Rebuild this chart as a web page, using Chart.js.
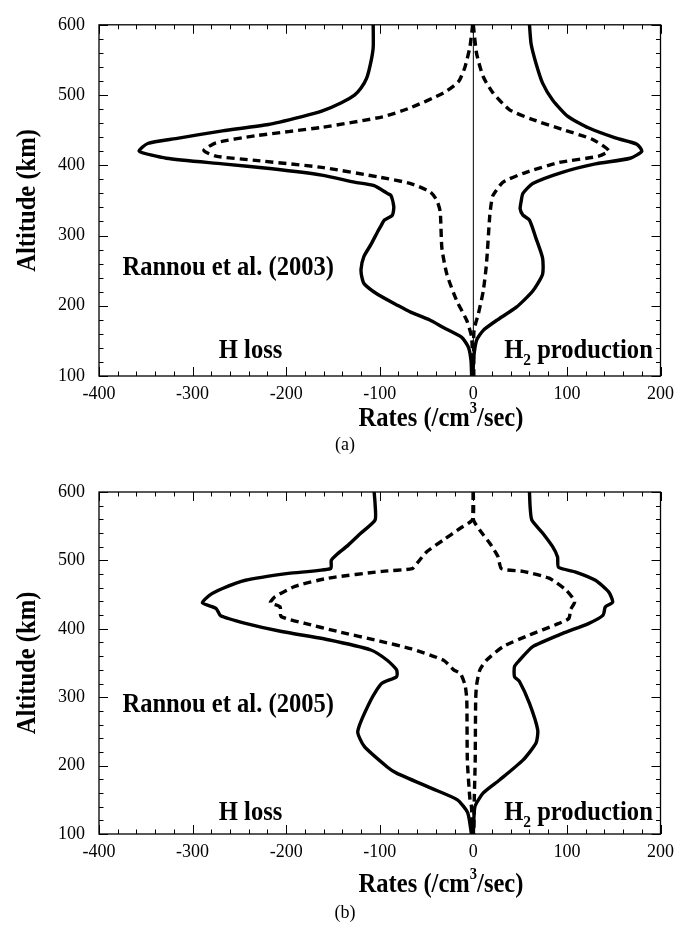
<!DOCTYPE html>
<html>
<head>
<meta charset="utf-8">
<script src="https://cdn.jsdelivr.net/npm/chart.js@4.4.0/dist/chart.umd.min.js"></script>
<style>
  body { margin: 0; background: #fff; }
  .panel { position: absolute; left: 0; width: 681px; height: 464px; }
  canvas { display: block; }
</style>
</head>
<body>
<div class="panel" style="top:0"><canvas id="chart-a" width="681" height="464"></canvas></div>
<div class="panel" style="top:464px"><canvas id="chart-b" width="681" height="464"></canvas></div>
<script>
// axis ticks
var rateTicks = [-400, -300, -200, -100, 0, 100, 200];
var altTicks = [100, 200, 300, 400, 500, 600];

// panel (a) - Rannou et al. (2003)
var altLossA = [600, 568, 547, 524, 510, 500, 489, 477, 469, 458, 449, 438, 431, 420, 410, 402, 395, 386, 376, 371, 360, 357, 341, 329, 322, 313, 306, 287, 270, 252, 240, 231, 216, 200, 191, 180, 169, 155, 141, 122, 100];
var rateLossA = [-107, -107, -109.5, -114, -120, -127, -141, -162, -184, -219, -268, -318, -348, -357, -328, -268, -215, -162, -127, -106, -92, -88, -85, -86.5, -95, -99, -102, -109.5, -117, -120, -119, -116.5, -102, -80, -67, -47, -32, -12.4, -5.3, -2.5, -1.8];
var altProdA = [600, 573, 545, 517, 493, 470, 453, 439, 430, 420, 410, 402, 390, 374, 360, 348, 338, 329, 322, 296, 268, 245, 221, 198, 179, 165, 151, 127, 100];
var rateProdA = [60, 61.7, 67, 74, 84.7, 100.6, 123.5, 151.7, 174.7, 180, 167.6, 130.5, 95, 63.5, 53, 51, 50, 53, 60, 67, 74, 74, 63.5, 46, 24.7, 10.6, 3.5, 0.5, -0.5];
var altLossDashA = [600, 569, 540, 519, 503, 482, 469, 454, 442, 432, 421, 413, 407, 397, 383, 374, 362, 350, 334, 282, 245, 207, 179, 155, 100];
var rateLossDashA = [-0.7, -3.6, -8.9, -15.9, -31.8, -67, -97, -162, -233, -275, -288, -275, -233, -162, -100, -67, -46, -39, -35.4, -33.6, -28.3, -17.7, -7, -1.8, -0.5];
var altProdDashA = [600, 559, 526, 503, 479, 465, 451, 437, 421, 413, 404, 390, 376, 357, 348, 329, 259, 221, 188, 165, 100];
var rateProdDashA = [0, 3.5, 10.6, 21, 38.8, 63.5, 95, 127, 144.6, 134, 91.7, 56.4, 31.8, 21, 19.4, 17.6, 14, 10.6, 5.3, 0.7, 0.5];
var altZeroA = [100, 600];
var rateZeroA = [0, 0];

// panel (b) - Rannou et al. (2005)
var altLossB = [600, 583, 559, 540, 522, 508, 500, 488, 481, 471, 459, 449, 438, 430, 419, 408, 396, 384, 369, 354, 340, 330, 320, 296, 250, 228, 198, 189, 167, 150, 131, 100];
var rateLossB = [-106, -105, -105, -120, -134, -146.5, -151.8, -152.5, -197.7, -243.5, -268, -282, -289.5, -275, -270, -243.5, -204.8, -155, -109.5, -92, -82, -82, -98, -109.5, -123.5, -116.5, -92, -82, -45, -17, -6, -2];
var altProdB = [600, 578, 559, 540, 520, 505, 490, 483, 471, 454, 439, 432, 420, 408, 393, 374, 354, 345, 330, 323, 291, 252, 233, 208, 179, 160, 140, 100];
var rateProdB = [60, 60.7, 62.5, 74, 84.7, 90, 91, 109.4, 130.5, 144.6, 148.9, 141, 138.7, 123.5, 95, 63.5, 49.3, 44, 44, 49.3, 60, 68.8, 67, 53, 28, 10.6, 1.7, 0];
var altLossDashB = [600, 560, 547, 530, 513, 496, 488, 484, 474, 462, 447, 438, 432, 418, 408, 396, 382, 371, 354, 340, 335, 318, 296, 208, 150, 140, 100];
var rateLossDashB = [0, -0.7, -14, -31.8, -49.5, -60, -65.3, -97, -155, -190.6, -211.8, -217, -206.5, -205.5, -180, -144.7, -100, -67, -31.8, -21, -14, -8.9, -7, -6.4, -3.6, -2, -1];
var altProdDashB = [600, 560, 544, 525, 505, 488, 484, 474, 457, 440, 428, 415, 406, 391, 374, 354, 340, 318, 296, 208, 150, 100];
var rateProdDashB = [0, 0, 7, 17.6, 26.5, 30, 53, 81, 98.8, 108.3, 104, 102, 88, 60, 31.8, 14, 7, 3.5, 2.5, 2, 1, 0.5];

var serif = '"Liberation Serif", "Times New Roman", serif';
var squeeze = 0.91; // the figure's bold lettering is narrow and tall

function toPoints (rates, alts) {
  var pts = [];
  for (var i = 0; i < alts.length; i++) {
    pts.push({ x: rates[i], y: alts[i] });
  }
  return pts;
}

function solid (rates, alts) {
  return { data: toPoints(rates, alts), borderColor: '#000', borderWidth: 3.4, borderJoinStyle: 'round', pointRadius: 0, showLine: true, tension: 0.2 };
}

function dashed (rates, alts) {
  var ds = solid(rates, alts);
  ds.borderDash = [8, 5];
  ds.borderJoinStyle = 'miter';
  return ds;
}

// bold text, narrowed; returns its drawn width
function boldText (ctx, text, x, y, size) {
  ctx.font = 'bold ' + size + 'px ' + serif;
  var width = ctx.measureText(text).width * squeeze;
  ctx.save();
  ctx.translate(x, y);
  ctx.scale(squeeze, 1);
  ctx.fillText(text, 0, 0);
  ctx.restore();
  return width;
}

// frame, inward ticks and the texts of the figure
var decorPlugin = {
  id: 'decor',
  afterDraw: function (chart) {
    var o = chart.options.plugins.decor;
    var ctx = chart.ctx;
    var a = chart.chartArea;
    var xs = chart.scales.x;
    var ys = chart.scales.y;
    ctx.save();
    ctx.strokeStyle = '#000';
    ctx.fillStyle = '#000';
    ctx.lineWidth = 1.3;
    ctx.strokeRect(a.left, a.top, a.right - a.left, a.bottom - a.top);
    // minor ticks every 20, major every 100
    ctx.lineWidth = 1;
    ctx.beginPath();
    for (var v = xs.min; v <= xs.max; v += 20) {
      var px = Math.round(xs.getPixelForValue(v)) + 0.5;
      var len = (v % 100 === 0) ? 9 : 4.5;
      ctx.moveTo(px, a.bottom); ctx.lineTo(px, a.bottom - len);
      ctx.moveTo(px, a.top); ctx.lineTo(px, a.top + len);
    }
    for (var w = ys.min; w <= ys.max; w += 20) {
      var py = Math.round(ys.getPixelForValue(w)) + 0.5;
      var len2 = (w % 100 === 0) ? 9 : 4.5;
      ctx.moveTo(a.left, py); ctx.lineTo(a.left + len2, py);
      ctx.moveTo(a.right, py); ctx.lineTo(a.right - len2, py);
    }
    ctx.stroke();

    // in-plot labels
    ctx.textBaseline = 'alphabetic';
    ctx.textAlign = 'left';
    boldText(ctx, o.source, xs.getPixelForValue(-375), ys.getPixelForValue(o.sourceAlt), 27);
    ctx.font = 'bold 27px ' + serif;
    var lossW = ctx.measureText('H loss').width * squeeze;
    boldText(ctx, 'H loss', xs.getPixelForValue(-238) - lossW / 2, ys.getPixelForValue(o.labelAlt), 27);
    // H2 production
    var hx = xs.getPixelForValue(33);
    var hy = ys.getPixelForValue(o.labelAlt);
    hx += boldText(ctx, 'H', hx, hy, 27);
    hx += boldText(ctx, '2', hx, hy + 7, 17);
    boldText(ctx, ' production', hx, hy, 27);

    // x title with superscript
    var parts = [['Rates (/cm', 27, 0], ['3', 16, -10], ['/sec)', 27, 0]];
    var total = 0;
    parts.forEach(function (p) {
      ctx.font = 'bold ' + p[1] + 'px ' + serif;
      total += ctx.measureText(p[0]).width * squeeze;
    });
    var tx = 441 - total / 2;
    var ty = a.bottom + o.titleOffset;
    ctx.textBaseline = 'middle';
    parts.forEach(function (p) {
      tx += boldText(ctx, p[0], tx, ty + p[2], p[1]);
    });

    // panel tag
    ctx.font = '18px ' + serif;
    ctx.textAlign = 'center';
    ctx.fillText(o.tag, 345, a.bottom + o.tagOffset);

    // y title
    ctx.translate(28, (a.top + a.bottom) / 2);
    ctx.rotate(-Math.PI / 2);
    ctx.textAlign = 'left';
    ctx.font = 'bold 27px ' + serif;
    var altW = ctx.measureText('Altitude (km)').width * squeeze;
    boldText(ctx, 'Altitude (km)', -altW / 2, 0, 27);
    ctx.restore();
  }
};

function makeChart (canvasId, datasets, topPad, bottomSpace, decor) {
  var ctx = document.getElementById(canvasId).getContext('2d');
  return new Chart(ctx, {
    type: 'scatter',
    data: { datasets: datasets },
    options: {
      responsive: false,
      animation: false,
      devicePixelRatio: 1,
      layout: { padding: { top: topPad, right: 16, left: 0, bottom: 0 } },
      plugins: { legend: { display: false }, tooltip: { enabled: false }, decor: decor },
      scales: {
        x: {
          type: 'linear',
          min: rateTicks[0],
          max: rateTicks[rateTicks.length - 1],
          afterBuildTicks: function (scale) { scale.ticks = rateTicks.map(function (v) { return { value: v }; }); },
          ticks: { color: '#000', padding: 7, font: { family: serif, size: 18 } },
          grid: { display: false, drawTicks: false },
          border: { display: false },
          afterFit: function (scale) { scale.height = bottomSpace; }
        },
        y: {
          type: 'linear',
          min: altTicks[0],
          max: altTicks[altTicks.length - 1],
          afterBuildTicks: function (scale) { scale.ticks = altTicks.map(function (v) { return { value: v }; }); },
          ticks: { color: '#000', padding: 14, font: { family: serif, size: 18 } },
          grid: { display: false, drawTicks: false },
          border: { display: false },
          afterFit: function (scale) { scale.width = 99; }
        }
      }
    },
    plugins: [decorPlugin]
  });
}

var zeroLine = solid(rateZeroA, altZeroA);
zeroLine.borderWidth = 1;
zeroLine.tension = 0;

makeChart('chart-a', [
  zeroLine,
  solid(rateLossA, altLossA),
  solid(rateProdA, altProdA),
  dashed(rateLossDashA, altLossDashA),
  dashed(rateProdDashA, altProdDashA)
], 21, 88, { source: 'Rannou et al. (2003)', sourceAlt: 244, labelAlt: 125, titleOffset: 43, tag: '(a)', tagOffset: 69 });

makeChart('chart-b', [
  solid(rateLossB, altLossB),
  solid(rateProdB, altProdB),
  dashed(rateLossDashB, altLossDashB),
  dashed(rateProdDashB, altProdDashB)
], 28, 94, { source: 'Rannou et al. (2005)', sourceAlt: 278, labelAlt: 120, titleOffset: 51, tag: '(b)', tagOffset: 79 });
</script>
</body>
</html>
